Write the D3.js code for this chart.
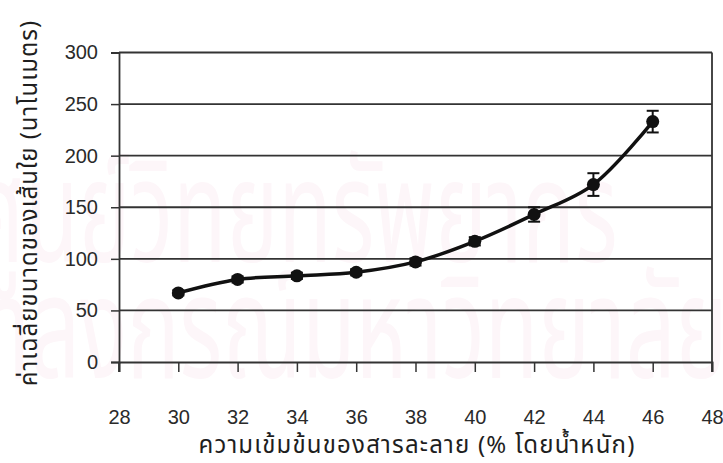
<!DOCTYPE html>
<html lang="th">
<head>
<meta charset="UTF-8"/>
<title>Fiber diameter vs concentration</title>
<script src="https://d3js.org/d3.v7.min.js"></script>
<style>
    body { margin: 0; background: #fff; }
    text { font-family: "Liberation Sans", Arial, "Noto Sans", sans-serif; }
</style>
</head>
<body>
<script>
    // Data
    var concentrations = [30, 32, 34, 36, 38, 40, 42, 44, 46];
    var meanDiameter = [67, 80, 83.5, 87, 97, 117, 143, 172, 233];
    var errDiameter = [2.5, 3, 3, 3, 3.5, 4, 7, 11, 10.5];
    var xTicks = [28, 30, 32, 34, 36, 38, 40, 42, 44, 46, 48];
    var yTicks = [0, 50, 100, 150, 200, 250, 300];
    var xTitle = "ความเข้มข้นของสารละลาย (% โดยน้ำหนัก)";
    var yTitle = "ค่าเฉลี่ยขนาดของเส้นใย (นาโนเมตร)";
    var watermark = ["ศูนย์วิทยทรัพยากร", "จุฬาลงกรณ์มหาวิทยาลัย"];

    var w = 723;
    var h = 463;
    var plotLeft = 119, plotRight = 712, plotTop = 52.5, plotBottom = 362;
    var ink = "#333";

    var points = concentrations.map(function (c, i) {
        return { x: c, y: meanDiameter[i], e: errDiameter[i] };
    });

    var xScale = d3.scaleLinear().domain([28, 48]).range([plotLeft, plotRight]);
    var yScale = d3.scaleLinear().domain([0, 300]).range([plotBottom, plotTop]);

    var svg = d3.select("body")
        .append("svg")
        .attr("width", w)
        .attr("height", h);

    // faint scanned watermark behind the chart
    svg.append("g")
        .selectAll("text")
        .data(watermark)
        .enter()
        .append("text")
        .attr("transform", (d, i) => i === 0 ? "translate(-30,262) scale(0.95,1.55)" : "translate(-110,378) scale(0.95,1.55)")
        .attr("fill", "#fdf6f9")
        .style("font-family", "'Noto Sans Thai', 'Noto Sans', sans-serif")
        .style("font-size", "92px")
        .text(d => d);

    // horizontal gridlines
    svg.append("g")
        .selectAll("line")
        .data(yTicks.filter(d => d > 0))
        .enter()
        .append("line")
        .attr("x1", plotLeft)
        .attr("x2", plotRight)
        .attr("y1", d => yScale(d))
        .attr("y2", d => yScale(d))
        .attr("stroke", ink)
        .attr("stroke-width", 1.8);

    // right border
    svg.append("line")
        .attr("x1", plotRight).attr("x2", plotRight)
        .attr("y1", plotTop).attr("y2", plotBottom + 10)
        .attr("stroke", ink)
        .attr("stroke-width", 1.8);

    // x axis
    var xAxis = d3.axisBottom(xScale)
        .tickValues(xTicks)
        .tickSize(10)
        .tickPadding(38)
        .tickFormat(d3.format("d"));

    var gx = svg.append("g")
        .attr("transform", `translate(0,${plotBottom})`)
        .call(xAxis);
    gx.select(".domain").attr("stroke", ink).attr("stroke-width", 1.8);
    gx.selectAll(".tick line").attr("stroke", ink).attr("stroke-width", 1.5);
    gx.selectAll(".tick text")
        .attr("fill", "#2a2a2a")
        .style("font-size", "20px");

    // y axis
    var yAxis = d3.axisLeft(yScale)
        .tickValues(yTicks)
        .tickSize(8)
        .tickPadding(13);

    var gy = svg.append("g")
        .attr("transform", `translate(${plotLeft},0)`)
        .call(yAxis);
    gy.select(".domain").attr("stroke", ink).attr("stroke-width", 1.8);
    gy.selectAll(".tick line").attr("stroke", ink).attr("stroke-width", 1.5);
    gy.selectAll(".tick text")
        .attr("fill", "#2a2a2a")
        .style("font-size", "20px");

    // y axis extends down through the tick row
    svg.append("line")
        .attr("x1", plotLeft).attr("x2", plotLeft)
        .attr("y1", plotBottom).attr("y2", plotBottom + 10)
        .attr("stroke", ink)
        .attr("stroke-width", 1.8);

    // smoothed line
    var line = d3.line()
        .x(d => xScale(d.x))
        .y(d => yScale(d.y))
        .curve(d3.curveCatmullRom.alpha(0.5));

    svg.append("path")
        .datum(points)
        .attr("d", line)
        .attr("fill", "none")
        .attr("stroke", "#111")
        .attr("stroke-width", 3.5);

    // error bars
    var eb = svg.append("g")
        .attr("stroke", "#111")
        .attr("stroke-width", 2);

    eb.selectAll("line.v")
        .data(points)
        .enter()
        .append("line")
        .attr("class", "v")
        .attr("x1", d => xScale(d.x))
        .attr("x2", d => xScale(d.x))
        .attr("y1", d => yScale(d.y + d.e))
        .attr("y2", d => yScale(d.y - d.e));

    ["top", "bot"].forEach(function (k) {
        eb.selectAll("line." + k)
            .data(points)
            .enter()
            .append("line")
            .attr("class", k)
            .attr("x1", d => xScale(d.x) - 6)
            .attr("x2", d => xScale(d.x) + 6)
            .attr("y1", d => yScale(k === "top" ? d.y + d.e : d.y - d.e))
            .attr("y2", d => yScale(k === "top" ? d.y + d.e : d.y - d.e));
    });

    // markers
    svg.append("g")
        .selectAll("circle")
        .data(points)
        .enter()
        .append("circle")
        .attr("cx", d => xScale(d.x))
        .attr("cy", d => yScale(d.y))
        .attr("r", 6.5)
        .attr("fill", "#111");

    // axis titles
    svg.append("text")
        .attr("x", 417)
        .attr("y", 453)
        .attr("text-anchor", "middle")
        .attr("fill", "#1e1e1e")
        .style("font-family", "'Noto Sans Thai', 'Noto Sans', sans-serif")
        .style("font-size", "24px")
        .style("letter-spacing", "1.2px")
        .text(xTitle);

    svg.append("text")
        .attr("transform", "translate(37,203) rotate(-90)")
        .attr("text-anchor", "middle")
        .attr("fill", "#1e1e1e")
        .style("font-family", "'Noto Sans Thai', 'Noto Sans', sans-serif")
        .style("font-size", "24px")
        .style("letter-spacing", "1px")
        .text(yTitle);
</script>
</body>
</html>
